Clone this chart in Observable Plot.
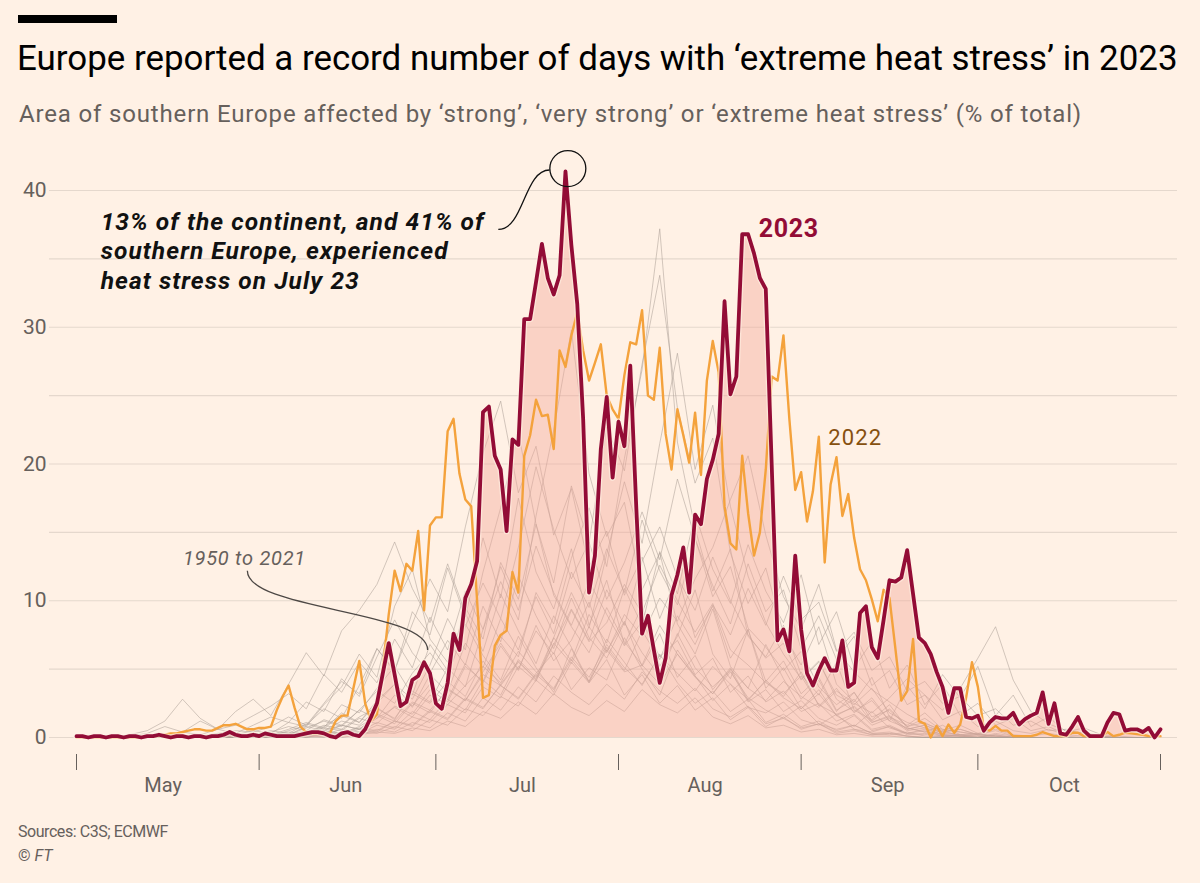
<!DOCTYPE html>
<html><head><meta charset="utf-8">
<script src="https://cdn.jsdelivr.net/npm/d3@7"></script>
<script src="https://cdn.jsdelivr.net/npm/@observablehq/plot@0.6"></script>
<style>
body{margin:0;background:#fff1e5;width:1200px;height:883px;position:relative;overflow:hidden;font-family:Roboto,"Noto Sans",sans-serif;}
#bar{position:absolute;left:18px;top:15px;width:99px;height:8px;background:#000;}
#title{position:absolute;left:17px;top:37px;font-size:35px;line-height:44px;color:#000;white-space:nowrap;}
#subtitle{position:absolute;left:19px;top:99px;font-size:24px;line-height:30px;color:#66605c;white-space:nowrap;}
#chart{position:absolute;left:0;top:140px;}
.src{position:absolute;left:18px;font-size:16px;line-height:22px;color:#66605c;white-space:nowrap;}
</style></head><body>
<div id="bar"></div>
<div id="title">Europe reported a record number of days with ‘extreme heat stress’ in 2023</div>
<div id="subtitle">Area of southern Europe affected by ‘strong’, ‘very strong’ or ‘extreme heat stress’ (% of total)</div>
<div id="chart"></div>
<div class="src" id="src1" style="top:821px">Sources: C3S; ECMWF</div>
<div class="src" id="src2" style="top:845px">© <i>FT</i></div>
<script>
// ---- data: daily values from 1 May (index 0) to 1 Nov (index 184), % of area ----
const values2023 = [
0.1,0.1,0.0,0.1,0.1,0.0,0.1,0.1,0.0,0.1,
0.1,0.0,0.1,0.1,0.2,0.1,0.0,0.1,0.1,0.0,
0.1,0.1,0.0,0.1,0.1,0.2,0.4,0.2,0.1,0.1,
0.2,0.1,0.3,0.2,0.1,0.1,0.1,0.1,0.2,0.3,
0.4,0.4,0.3,0.1,0.0,0.3,0.4,0.2,0.1,0.6,
1.5,2.5,4.7,6.9,4.6,2.3,2.6,4.2,4.5,5.5,
4.7,2.5,2.1,4.0,7.6,6.4,10.2,11.2,12.9,23.8,
24.2,20.6,19.6,15.1,21.8,21.4,30.6,30.6,33.3,36.1,
33.6,32.4,33.8,41.4,36.0,31.7,23.3,10.6,13.3,21.1,
24.9,19.0,23.1,21.3,27.2,17.0,7.6,8.9,6.4,4.0,
5.8,10.4,11.9,13.9,10.6,16.3,15.6,18.9,20.3,22.2,
31.9,25.1,26.4,36.8,36.8,35.4,33.6,32.8,20.0,7.1,
7.9,6.3,13.3,7.9,4.7,3.8,4.9,5.8,4.9,4.9,
7.1,3.7,4.0,9.1,9.6,6.6,5.8,8.6,11.5,11.4,
11.7,13.7,10.5,7.3,6.9,6.1,4.8,3.7,1.8,3.6,
3.6,1.5,1.4,1.6,0.5,1.1,1.5,1.4,1.4,1.8,
0.95,1.35,1.6,1.8,3.3,1.0,2.5,0.3,0.2,0.8,
1.5,0.5,0.1,0.1,0.1,1.1,1.8,1.7,0.5,0.6,
0.6,0.4,0.7,0.0,0.6];

const values2022 = [
0,0,0,0,0,0,0,0,0,0,
0,0,0.1,0.1,0.1,0.2,0.3,0.3,0.4,0.5,
0.6,0.6,0.5,0.5,0.7,0.9,0.9,1.0,0.8,0.6,
0.6,0.7,0.7,0.8,2.0,3.0,3.8,2.2,0.8,0.4,
0.3,0.3,0.3,0.3,1.2,1.6,1.6,3.6,5.6,2.5,
1.2,1.7,5.1,9.0,12.2,10.7,12.7,12.2,15.1,9.3,
15.5,16.1,16.1,22.4,23.3,19.3,17.4,16.9,10.0,2.9,
3.1,6.7,7.5,7.8,12.1,10.6,20.6,22.1,24.7,23.5,
23.6,21.1,28.3,27.1,29.4,31.1,28.3,26.1,27.4,28.75,
25.0,24.0,23.3,26.5,28.9,28.75,31.25,25.0,24.7,28.5,
22.2,19.6,24.0,22.1,20.1,23.75,19.2,26.1,29.0,26.7,
16.9,14.2,13.75,20.6,16.4,13.3,15.0,19.6,26.4,26.1,
29.4,23.3,18.1,19.4,15.8,18.0,22.0,12.8,18.5,20.5,
16.2,17.8,14.6,12.3,11.5,10.1,8.5,10.8,10.2,6.5,
2.7,3.4,7.2,1.2,1.0,0.0,0.85,0.1,0.95,0.35,
0.95,2.9,5.5,3.7,0.65,0.5,0.85,0.5,0.5,0.1,
0.1,0.1,0.1,0.2,0.4,0.25,0.1,0.1,0.1,0.35,
0.35,0.1,0.1,0.1,0.1,0.4,0.1,0.2,0.35,0.3,
0.25,0.2,0.1,0.1,0.1];

// ---- 1950–2021: a sample of the background years, estimated every 3 days (day 0, 3, 6 … 183) ----
const pastYears = [
[0,0,0,0,0.1,0.2,0.1,0,0.3,0.5, 0.4,0.8,1.5,0.9,2.5,4.1,3.2,6.5,4.8,9.2, 7.5,12.4,8.8,14.6,10.2,17.5,12.1,9.4,13.8,8.2, 11.5,6.8,9.6,5.2,7.4,10.8,6.1,4.3,7.9,3.6, 5.1,2.8,4.2,1.9,3.3,1.2,2.1,0.8,1.4,0.5, 0.9,0.3,0.6,0.2,0.1,0.3,0.1,0,0,0,0,0],
[0,0,0,0,0,0,0,0.1,0,0.2, 0.1,0.3,0.2,0.8,0.5,1.2,0.9,2.1,1.4,3.2, 2.5,4.1,3.0,5.6,3.8,2.9,4.7,6.2,3.5,5.1, 4.2,7.3,5.0,3.1,6.4,4.5,2.7,3.9,2.2,1.8, 2.6,1.3,0.9,1.7,0.6,0.4,0.8,0.2,0.3,0.1, 0.1,0,0.2,0,0,0,0,0,0,0,0,0],
[0,0,0,0,0,0.1,0,0,0.2,0.1, 0.3,0.2,0.6,1.1,0.7,2.4,1.8,3.6,5.2,3.1, 6.8,4.9,9.5,7.2,12.8,10.1,15.6,11.3,18.4,14.2, 22.7,19.5,27.3,33.8,24.1,18.6,21.9,13.5,9.8,12.4, 7.6,5.3,8.1,3.9,2.6,4.4,1.5,0.9,1.8,0.6, 0.4,0.2,0.5,0.1,0,0,0,0,0,0,0,0],
[0,0,0,0.1,0.3,0.8,0.4,1.2,0.6,1.9, 2.8,1.6,3.9,6.2,4.5,7.8,9.3,11.2,14.3,10.9, 8.4,12.7,9.1,6.3,10.5,7.8,5.4,8.9,6.6,4.1, 7.2,5.5,3.8,6.1,4.0,2.5,3.4,1.9,2.8,1.1, 1.7,0.8,1.2,0.5,0.9,0.3,0.2,0.4,0.1,0.1, 0,0,0,0,0,0,0,0,0,0,0,0],
[0,0,0,0,0,0,0,0,0,0.1, 0,0.2,0.4,0.3,0.9,0.6,1.5,2.2,1.3,3.4, 2.6,5.1,3.7,7.9,11.4,8.6,16.2,22.5,29.8,19.3, 14.7,17.2,10.8,13.5,8.3,6.1,9.4,5.2,3.6,6.8, 4.3,2.1,3.5,1.6,0.8,1.9,0.7,0.3,0.6,0.2, 0.1,0,0.3,0.1,0,0,0,0,0,0,0,0],
[0,0,0,0,0,0,0.2,0,0.1,0, 0.2,0.5,0.3,1.0,0.6,1.8,1.1,2.7,3.9,2.2, 4.6,3.3,6.9,5.1,8.7,6.4,10.3,7.6,12.1,9.5, 13.8,10.6,15.9,12.2,9.7,14.5,11.1,8.3,12.7,9.2, 10.8,6.5,8.9,5.7,7.4,3.8,4.9,2.4,3.1,1.3, 1.9,0.8,1.2,0.5,0.3,0.6,0.2,0.1,0,0,0,0],
[0,0,0,0,0,0,0,0.1,0.3,0.2, 0.1,0.4,0.8,0.5,1.3,0.9,2.0,1.4,3.1,2.3, 3.9,2.8,5.4,4.0,6.7,4.9,8.2,5.6,7.1,9.9, 6.3,8.5,5.2,7.6,4.4,6.0,3.5,5.1,2.7,4.2, 3.0,4.8,2.3,3.6,1.8,2.9,1.2,3.8,2.1,4.6, 2.9,5.2,1.6,3.1,0.8,1.5,0.4,0.7,0.2,0.1,0,0],
[0,0,0,0,0,0,0,0,0,0, 0.2,0.1,0.5,0.9,2.1,1.4,3.8,6.5,4.9,8.3, 11.6,9.2,15.4,20.8,24.6,17.9,21.3,14.8,18.2,12.5, 15.1,10.4,13.2,8.7,11.9,7.3,9.6,5.8,7.9,4.1, 5.6,3.2,4.4,2.0,2.8,1.1,1.6,0.6,0.9,0.3, 0.2,0.1,0,0.1,0,0,0,0,0,0,0,0],
[0,0,0,0,0,0,0,0,0,0, 0,0.1,0.2,0.1,0.5,0.3,0.8,1.6,1.0,2.5, 1.8,3.6,2.7,4.8,6.9,5.0,7.8,6.1,9.3,7.0, 8.4,11.2,9.1,12.6,10.0,7.7,9.8,6.4,5.3,4.0, 3.2,4.5,2.4,1.7,2.2,0.9,1.4,0.5,0.7,0.2, 0.1,0.3,0,0,0,0,0,0,0,0,0,0],
[0,0,0,0,0,0,0,0,0,0.1, 0.1,0.2,0.1,0.4,0.7,0.5,1.4,1.0,2.3,1.7, 3.5,2.6,5.2,4.1,7.4,5.9,10.6,8.3,13.1,16.8, 12.5,20.4,26.9,37.2,21.6,15.3,10.7,13.8,7.4,5.9, 8.2,4.6,3.1,5.5,2.0,1.3,2.4,0.7,0.4,0.9, 0.2,0.1,0,0,0,0,0,0,0,0,0,0],
[0,0,0,0,0,0.1,0.4,0.2,0.6,0.3, 0.9,1.5,1.1,2.6,1.9,4.3,3.0,5.9,8.6,6.2, 4.7,7.1,5.3,9.6,7.0,11.8,8.9,6.5,10.2,7.3, 5.8,8.4,6.2,4.5,7.6,5.1,3.7,4.9,2.6,3.5, 1.9,2.7,1.4,0.9,1.6,0.5,0.8,0.3,0.2,0.5, 0.1,0,0.2,0,0,0,0,0,0,0,0,0],
[0,0,0,0,0,0,0,0,0,0, 0,0,0.1,0.3,0.2,0.6,0.4,1.1,0.7,1.9, 1.3,2.8,2.0,4.2,3.1,5.7,4.4,7.3,5.6,9.0, 6.9,10.9,8.2,13.6,10.5,16.4,12.3,9.8,14.1,10.7, 8.4,11.9,6.8,9.2,5.1,7.0,3.6,5.3,2.4,3.9, 1.6,2.5,0.9,1.4,0.5,0.8,0.2,0.4,0.1,0,0,0],
[0,0,0,0,0,0,0,0,0,0, 0,0,0,0.1,0,0.3,0.2,0.6,0.4,1.1, 0.7,1.8,1.2,2.9,2.0,3.7,2.6,4.5,3.3,2.4, 3.9,2.8,4.8,3.4,2.5,3.6,2.1,1.5,2.3,1.0, 1.4,0.7,1.0,0.4,0.6,0.2,0.3,0.1,0,0.1, 0,0,0,0,0,0,0,0,0,0,0,0],
[0,0,0,0,0,0,0,0,0.1,0, 0.1,0.3,0.2,0.7,1.2,0.8,2.0,3.4,2.5,4.7, 6.2,4.5,8.1,11.3,8.7,13.9,19.8,15.2,11.6,14.3, 10.1,12.8,16.5,13.0,18.9,14.6,10.3,12.5,8.0,6.6, 4.9,6.3,3.7,2.4,3.3,1.5,2.0,0.8,1.1,0.4, 0.6,0.2,0.1,0,0,0,0,0,0,0,0,0],
[0,0,0,0,0,0,0,0,0,0, 0,0.1,0,0.2,0.4,0.3,0.7,0.5,1.2,0.9, 2.0,1.4,2.9,2.2,3.8,2.8,4.6,3.5,5.7,4.1, 6.4,4.8,5.3,3.9,6.1,4.4,3.2,5.0,3.6,2.7, 4.1,3.0,2.2,3.4,2.5,1.8,2.9,4.3,3.1,2.0, 3.6,5.8,8.1,4.2,1.9,1.0,0.5,0.3,0.1,0,0,0],
[0,0,0,0.2,0.5,1.2,2.8,1.4,0.6,0.9, 1.6,2.3,3.2,2.1,4.6,3.3,5.5,4.0,7.2,5.1, 8.8,6.4,10.7,7.9,12.5,9.3,14.0,10.6,8.2,11.4, 9.0,6.7,8.5,5.9,7.1,4.6,5.8,3.3,4.5,2.6, 3.4,1.9,2.5,1.2,1.7,0.6,0.9,0.3,0.5,0.1, 0.2,0,0,0,0,0,0,0,0,0,0,0],
[0,0,0,0,0,0,0,0,0.1,0.2, 0.5,0.3,1.1,0.8,2.4,3.7,6.1,4.4,9.6,12.3, 7.2,5.5,8.3,6.0,4.2,7.4,5.1,3.3,6.5,4.0, 5.7,3.1,4.6,2.5,3.8,2.0,2.9,1.3,2.2,0.8, 1.5,0.6,1.0,0.3,0.5,0.2,0.3,0.1,0,0, 0,0,0,0,0,0,0,0,0,0,0,0],
[0,0,0,0,0,0,0,0,0,0, 0,0,0.1,0,0.3,0.2,0.6,0.4,1.2,0.8, 1.9,1.3,2.8,2.1,3.9,5.6,4.2,6.8,9.4,7.1, 10.8,8.2,12.9,15.4,11.7,9.3,13.2,10.0,7.5,5.8, 6.9,4.2,5.5,3.1,2.4,3.6,1.8,1.1,0.7,0.4, 0.6,0.2,0.1,0,0,0,0,0,0,0,0,0],
[0,0,0,0,0,0,0,0,0,0, 0.1,0,0.2,0.5,0.3,0.9,0.6,1.4,2.2,1.5, 3.1,2.4,3.8,5.2,4.0,6.3,4.8,3.6,5.9,4.4, 6.8,5.1,3.9,6.0,4.7,3.4,5.2,3.9,2.8,4.1, 2.9,2.1,3.2,1.6,2.3,1.1,1.5,0.6,0.9,0.4, 0.2,0.3,0.1,0,0,0,0,0,0,0,0,0],
[0,0,0,0,0,0,0,0,0,0, 0,0.1,0.3,0.2,0.5,0.9,0.6,1.7,1.2,2.6, 2.0,3.5,2.7,4.6,3.8,5.5,4.3,6.9,5.4,8.1, 6.2,9.0,7.4,10.2,8.5,11.6,13.9,17.4,20.6,14.8, 10.3,7.9,11.2,6.4,4.8,3.5,2.6,1.7,1.0,0.6, 0.4,0.2,0.1,0,0,0,0,0,0,0,0,0],
[0,0,0,0,0,0,0,0,0,0, 0,0.2,0.1,0.4,0.8,1.6,1.1,2.5,3.9,2.8, 5.3,8.7,6.4,12.1,16.8,22.3,15.6,10.4,8.1,6.2, 9.5,7.0,5.3,8.2,6.1,4.5,3.2,4.8,2.9,2.0, 1.4,2.3,1.0,0.6,0.9,0.3,0.4,0.1,0,0, 0,0,0,0,0,0,0,0,0,0,0,0],
[0,0,0,0,0,0,0,0,0,0, 0,0,0,0,0.1,0,0.2,0.4,0.3,0.7, 0.5,1.2,0.8,1.9,1.4,2.6,1.7,3.2,2.2,1.6, 2.7,1.9,3.5,2.4,1.8,2.9,1.5,1.0,1.6,0.7, 0.9,0.4,0.6,0.2,0.3,0.1,0.1,0,0,0, 0,0,0,0,0,0,0,0,0,0,0,0],
[0,0,0,0,0,0,0,0,0,0, 0,0,0.1,0.2,0.1,0.4,0.3,0.9,0.6,1.5, 1.1,2.4,1.8,3.7,2.9,5.2,4.1,7.3,10.6,8.0, 13.4,18.7,14.2,21.5,28.1,19.6,24.3,16.9,11.8,8.4, 6.1,4.3,5.6,2.8,1.9,2.7,1.2,0.7,0.4,0.2, 0.1,0,0,0,0,0,0,0,0,0,0,0],
[0,0,0,0,0,0,0,0,0,0, 0,0,0,0.1,0.2,0.1,0.4,0.3,0.8,0.5, 1.3,0.9,2.1,1.6,3.0,2.3,4.2,3.1,5.5,4.0, 6.6,4.9,7.8,5.7,8.9,6.8,9.7,7.5,10.9,8.2, 11.8,8.6,9.9,6.3,7.7,4.9,5.9,3.4,4.1,2.5, 3.0,1.6,2.1,0.9,1.2,0.5,0.6,0.2,0.1,0,0,0]
];

const yTicks = [0, 10, 20, 30, 40];
const gridValues = [0, 5, 10, 15, 20, 25, 30, 35, 40];
const monthNames = ["May", "Jun", "Jul", "Aug", "Sep", "Oct"];

// ---- build tables ----
const t0 = Date.UTC(2023, 4, 1);
const day = n => new Date(t0 + n * 864e5);
const t2023 = values2023.map((v, i) => ({date: day(i), value: v}));
const t2022 = values2022.map((v, i) => ({date: day(i), value: v}));
const tPast = pastYears.flatMap((arr, k) => arr.map((v, i) => ({date: day(i * 3), value: v, sample: k})));
const monthStarts = d3.range(7).map(i => new Date(Date.UTC(2023, 4 + i, 1)));
const monthMids = monthStarts.slice(0, 6).map((d, i) => ({date: new Date(+d + 14.7 * 864e5), label: monthNames[i]}));

const ink = "#66605c";
const claret = "#930c36";
const chart = Plot.plot({
  width: 1200, height: 680,
  marginLeft: 76, marginRight: 40, marginTop: 50, marginBottom: 83,
  style: {background: "transparent", fontFamily: "Roboto, 'Noto Sans', sans-serif", overflow: "visible"},
  x: {type: "utc", domain: [monthStarts[0], monthStarts[6]], axis: null},
  y: {domain: [0, 40], axis: null},
  marks: [
    Plot.ruleY(gridValues, {stroke: "#e5d8cd", strokeWidth: 1.2, insetLeft: -27, insetRight: -17}),
    Plot.line(tPast, {x: "date", y: "value", z: "sample", stroke: "#ada098", strokeOpacity: 0.55, strokeWidth: 1}),
    Plot.areaY(t2023, {x: "date", y: "value", fill: "#f4a898", fillOpacity: 0.42}),
    Plot.line(t2022, {x: "date", y: "value", stroke: "#f4a23c", strokeWidth: 2.4}),
    Plot.line(t2023, {x: "date", y: "value", stroke: "#fff1e5", strokeOpacity: 0.6, strokeWidth: 6.5}),
    Plot.line(t2023, {x: "date", y: "value", stroke: claret, strokeWidth: 3.8}),
    Plot.axisY({ticks: yTicks, tickSize: 0, tickPadding: 30, fontSize: 21, color: ink, label: null}),
    Plot.axisX({ticks: monthStarts, tickSize: 16, tickFormat: () => "", dy: 17, color: ink}),
    Plot.text(monthMids, {x: "date", y: 0, text: "label", dy: 48, fontSize: 20, fill: ink}),
    // annotations
    Plot.dot([{date: day(83.4), value: 41.6}], {x: "date", y: "value", r: 18, stroke: "#111", strokeWidth: 1.3, fill: "none"}),
    Plot.link([{x1: day(71.6), y1: 37.15, x2: day(80.3), y2: 41.5}], {x1: "x1", y1: "y1", x2: "x2", y2: "y2", curve: "bump-x", stroke: "#111", strokeWidth: 1.3}),
    Plot.text([{date: day(4.1), value: 38.7, text: "13% of the continent, and 41% of\nsouthern Europe, experienced\nheat stress on July 23"}],
      {x: "date", y: "value", text: "text", textAnchor: "start", lineAnchor: "top", lineHeight: 1.22, fontSize: 24.5, fontStyle: "italic", fontWeight: "bold", fill: "#111"}),
    Plot.text([{date: day(28.5), value: 13.1, text: "1950 to 2021"}], {x: "date", y: "value", text: "text", fontSize: 20, fontStyle: "italic", fill: ink}),
    Plot.link([{x1: day(29.0), y1: 12.2, x2: day(59.6), y2: 6.4}], {x1: "x1", y1: "y1", x2: "x2", y2: "y2", curve: "bump-y", stroke: "#4d4845", strokeWidth: 1.3}),
    Plot.text([{date: day(115.8), value: 37.2, text: "2023"}], {x: "date", y: "value", text: "text", textAnchor: "start", fontSize: 25, fontWeight: "bold", fill: claret}),
    Plot.text([{date: day(127.6), value: 21.9, text: "2022"}], {x: "date", y: "value", text: "text", textAnchor: "start", fontSize: 22, fill: "#86500f"})
  ]
});
document.getElementById("chart").appendChild(chart);

// ---- fit text widths to the reference layout ----
function fitHTMLSpacing(el, target) {
  el.style.letterSpacing = "0px";
  const w = el.getBoundingClientRect().width;
  el.style.letterSpacing = ((target - w) / el.textContent.length) + "px";
}
function fitHTMLSize(el, target) {
  const w = el.getBoundingClientRect().width;
  el.style.fontSize = (parseFloat(getComputedStyle(el).fontSize) * target / w) + "px";
}
function fitSVGSpacing(starts, target) {
  d3.select(chart).selectAll("text").filter(function() { return this.textContent.startsWith(starts); }).each(function() {
    const first = this.querySelector("tspan") || this;
    const w = first.getComputedTextLength();
    const n = first.textContent.length;
    this.style.letterSpacing = ((target - w) / n) + "px";
  });
}
fitHTMLSize(document.getElementById("title"), 1161);
fitHTMLSpacing(document.getElementById("subtitle"), 1063);
fitHTMLSpacing(document.getElementById("src1"), 150);
fitSVGSpacing("13% of", 384);
fitSVGSpacing("1950 to", 123);
fitSVGSpacing("2023", 60);
fitSVGSpacing("2022", 54);
</script>
</body></html>
